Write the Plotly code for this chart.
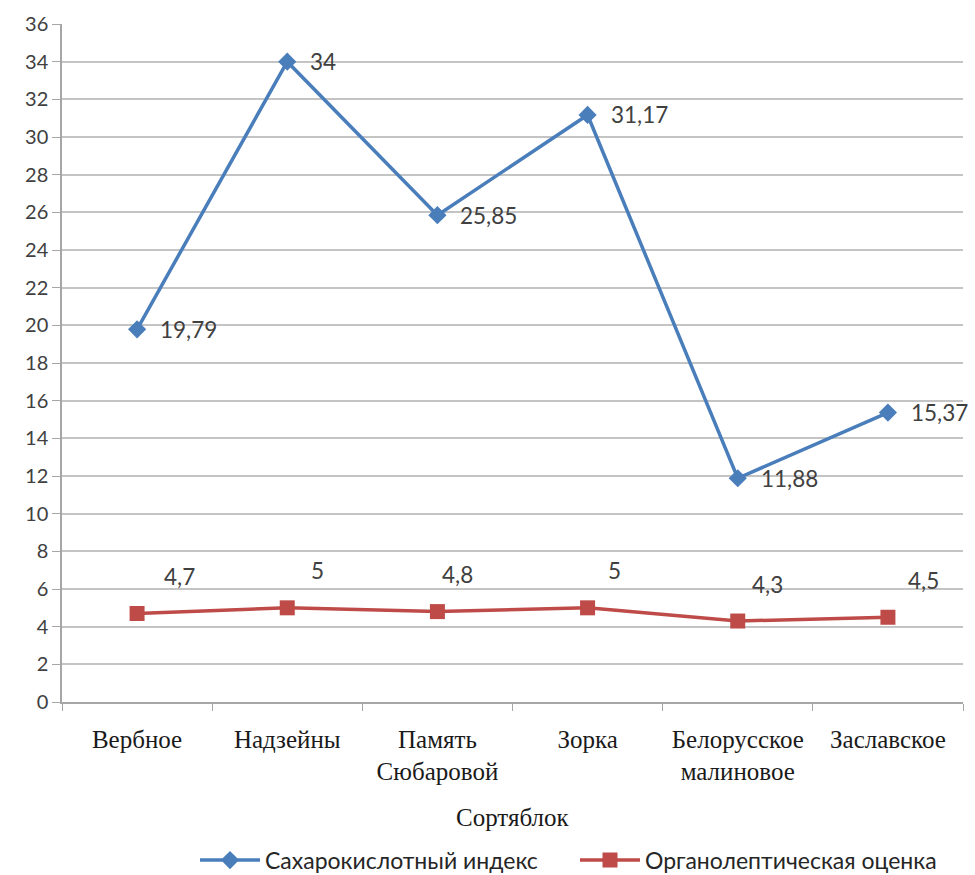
import plotly.graph_objects as go

# Apple varieties and their measured indicators
categories = ["Вербное", "Надзейны", "Память<br>Сюбаровой", "Зорка", "Белорусское<br>малиновое", "Заславское"]
sugar_acid_index = [19.79, 34, 25.85, 31.17, 11.88, 15.37]
organoleptic_score = [4.7, 5, 4.8, 5, 4.3, 4.5]
y_ticks = list(range(0, 37, 2))

# label placement offsets (pixels) for the organoleptic series
score_label_dx = [42, 30, 20, 27, 30, 36]
score_label_dy = 37

BLUE = "#4A7EBB"
RED = "#BE4B48"
GRID = "#C4C4C4"
SANS = "Lato, Open Sans, sans-serif"
SERIF = "Liberation Serif, Times New Roman, serif"
TICK_FONT = dict(family=SANS, size=20, color="#404040")
LABEL_FONT = dict(family=SANS, size=22.5, color="#404040")


def fmt(v):
    s = f"{v:.2f}".rstrip("0").rstrip(".")
    return s.replace(".", ",")


fig = go.Figure()
fig.add_trace(go.Scatter(
    x=categories, y=sugar_acid_index, mode="lines+markers",
    name="Сахарокислотный индекс",
    line=dict(color=BLUE, width=3.5),
    marker=dict(symbol="diamond", size=14, color=BLUE),
))
fig.add_trace(go.Scatter(
    x=categories, y=organoleptic_score, mode="lines+markers",
    name="Органолептическая оценка",
    line=dict(color=RED, width=3.5),
    marker=dict(symbol="square", size=15, color=RED),
))

annotations = []
for c, v in zip(categories, sugar_acid_index):
    annotations.append(dict(
        x=c, y=v, text=fmt(v), showarrow=False, xanchor="left", yanchor="middle",
        xshift=21, font=LABEL_FONT,
    ))
for c, v, dx in zip(categories, organoleptic_score, score_label_dx):
    annotations.append(dict(
        x=c, y=v, text=fmt(v), showarrow=False, xanchor="center", yanchor="middle",
        xshift=dx, yshift=score_label_dy, font=LABEL_FONT,
    ))
annotations.append(dict(
    text="Сортяблок", xref="paper", yref="paper", x=0.5, y=0, yshift=-115,
    showarrow=False, xanchor="center", yanchor="middle",
    font=dict(family=SERIF, size=25, color="#1a1a1a"),
))

fig.update_layout(
    width=975, height=875,
    margin=dict(l=62, r=12, t=24, b=173),
    paper_bgcolor="white", plot_bgcolor="white",
    showlegend=True,
    legend=dict(
        orientation="h", xref="container", yref="container",
        x=0.2, xanchor="left", y=0.017, yanchor="middle",
        font=dict(family=SANS, size=23, color="#262626"),
        itemwidth=60, tracegroupgap=0,
        entrywidth=305, entrywidthmode="pixels",
    ),
    annotations=annotations,
)
fig.update_xaxes(
    type="category", range=[-0.5, len(categories) - 0.5],
    showgrid=False, showline=True, linecolor="#A6A6A6", linewidth=1.5,
    ticks="outside", tickson="boundaries", ticklen=7, tickcolor="#A6A6A6",
    ticklabelstandoff=14,
    tickfont=dict(family=SERIF, size=25, color="#1a1a1a"),
)
fig.update_yaxes(
    range=[0, 36], tickvals=y_ticks,
    showgrid=True, gridcolor=GRID, gridwidth=1.5,
    showline=True, linecolor="#A6A6A6", linewidth=1.5,
    ticks="outside", ticklen=8, tickcolor="#A6A6A6",
    zeroline=False, tickfont=TICK_FONT,
)

fig.write_html("out.html")
